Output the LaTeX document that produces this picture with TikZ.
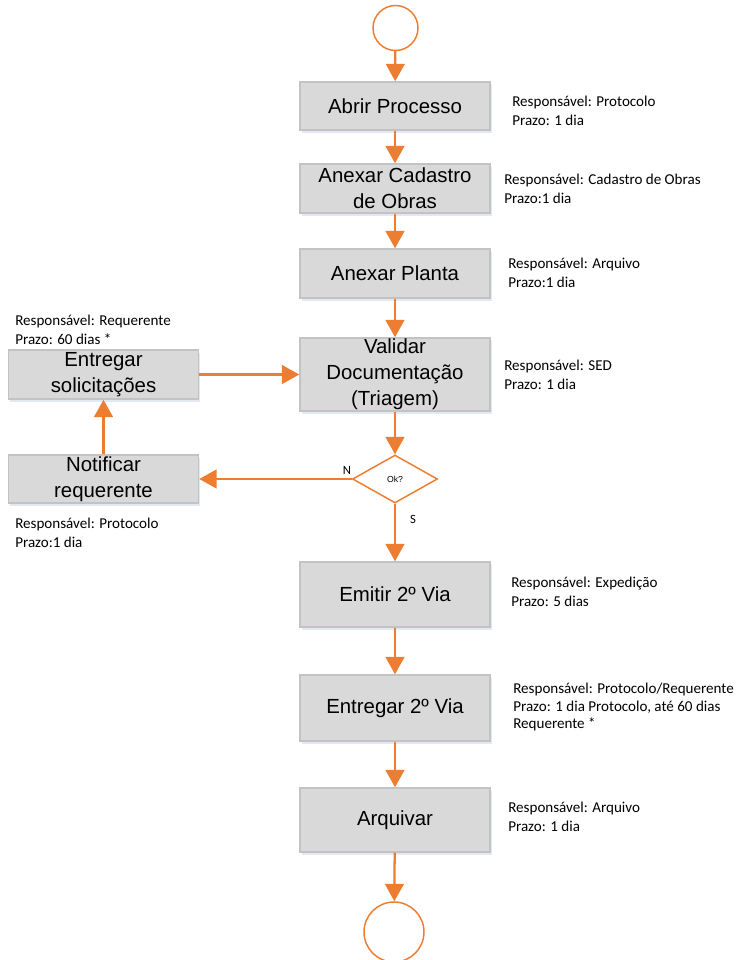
\documentclass[tikz,border=0pt]{standalone}
\usepackage{fontspec}
\setmainfont{Liberation Sans}
\newfontfamily\annfont{Carlito}
\usetikzlibrary{arrows.meta,shapes.geometric,shadows}
\definecolor{orng}{HTML}{ED7D31}
\definecolor{boxfill}{HTML}{D9D9D9}
\definecolor{boxline}{HTML}{C3C3C3}
\definecolor{shadowc}{HTML}{D5E0EE}
\begin{document}
\begin{tikzpicture}[x=0.75pt,y=-0.75pt,
  stepbox/.style={draw=boxline,line width=1.1pt,fill=boxfill,minimum width=142.5pt,
    inner sep=0pt,align=center,font=\fontsize{15.3}{19.5}\selectfont,
    drop shadow={shadow xshift=1.2pt,shadow yshift=-2.2pt,fill=shadowc,opacity=0.7}},
  termc/.style={circle,draw=orng,line width=1.1pt,fill=white,inner sep=0pt},
  decis/.style={diamond,draw=orng,line width=1.1pt,fill=white,inner sep=0pt,
    minimum width=63.75pt,minimum height=36pt,aspect=1.77,font=\fontsize{6.5}{8}\selectfont},
  ann/.style={anchor=west,inner sep=0pt,align=left,font=\annfont\fontsize{11.3}{14.6}\selectfont},
  lbl/.style={inner sep=0pt,font=\annfont\fontsize{9.5}{11}\selectfont},
  flow/.style={draw=orng,line width=1.7pt,-{Triangle[width=14pt,length=13pt]}}]
\useasboundingbox (0,0) rectangle (748,960);

\node[termc,minimum size=33.75pt] (start) at (395.5,28) {};
\node[stepbox,minimum height=36pt] (abrir) at (395,106) {Abrir Processo};
\node[stepbox,minimum height=36.75pt] (cad) at (395,188.5) {Anexar Cadastro\\de Obras};
\node[stepbox,minimum height=36.75pt] (planta) at (395,273.5) {Anexar Planta};
\node[stepbox,minimum height=54.75pt] (valid) at (395,374.5) {\raisebox{-2pt}{\parbox{140pt}{\centering Validar\\Documentação\\(Triagem)}}};
\node[stepbox,minimum height=36.75pt] (entsol) at (103.5,374.5) {\raisebox{-1.5pt}{\parbox{140pt}{\centering Entregar\\solicitações}}};
\node[stepbox,minimum height=36pt] (notif) at (103.5,479) {\raisebox{-1pt}{\parbox{140pt}{\centering Notificar\\requerente}}};
\node[decis] (ok) at (395,479) {Ok?};
\node[stepbox,minimum height=48.75pt] (emitir) at (395,594.5) {Emitir 2º Via};
\node[stepbox,minimum height=49.5pt] (ent2) at (395,708) {Entregar 2º Via};
\node[stepbox,minimum height=48pt] (arq) at (395,820) {Arquivar};
\node[termc,minimum size=45pt] (end) at (394,932) {};

\draw[flow] (start) -- (abrir);
\draw[flow] (abrir) -- (cad);
\draw[flow] (cad) -- (planta);
\draw[flow] (planta) -- (valid);
\draw[flow] (valid) -- (ok);
\draw[flow] (ok.west) -- (notif.east);
\draw[flow] (notif) -- (entsol);
\draw[flow] (entsol) -- (valid);
\draw[flow] (ok.south) -- (emitir.north);
\draw[flow] (emitir) -- (ent2);
\draw[flow] (ent2) -- (arq);
\draw[flow] (arq) -- (end);

\node[lbl] (nlab) at (347,470) {N};
\node[lbl] (slab) at (413,519) {S};

\node[ann] (a1) at (512,111) {Responsável: Protocolo\\Prazo: 1 dia};
\node[ann] (a2) at (504,189) {Responsável: Cadastro de Obras\\Prazo:1 dia};
\node[ann] (a3) at (508,273) {Responsável: Arquivo\\Prazo:1 dia};
\node[ann] (a4) at (504,375) {Responsável: SED\\Prazo: 1 dia};
\node[ann] (a5) at (15,330) {Responsável: Requerente\\Prazo: 60 dias *};
\node[ann] (a6) at (15,533) {Responsável: Protocolo\\Prazo:1 dia};
\node[ann] (a7) at (511,592) {Responsável: Expedição\\Prazo: 5 dias};
\node[ann,font=\annfont\fontsize{11.3}{13.4}\selectfont] (a8) at (513,707) {Responsável: Protocolo/Requerente\\Prazo: 1 dia Protocolo, até 60 dias\\Requerente *};
\node[ann] (a9) at (508,817) {Responsável: Arquivo\\Prazo: 1 dia};
\end{tikzpicture}
\end{document}
